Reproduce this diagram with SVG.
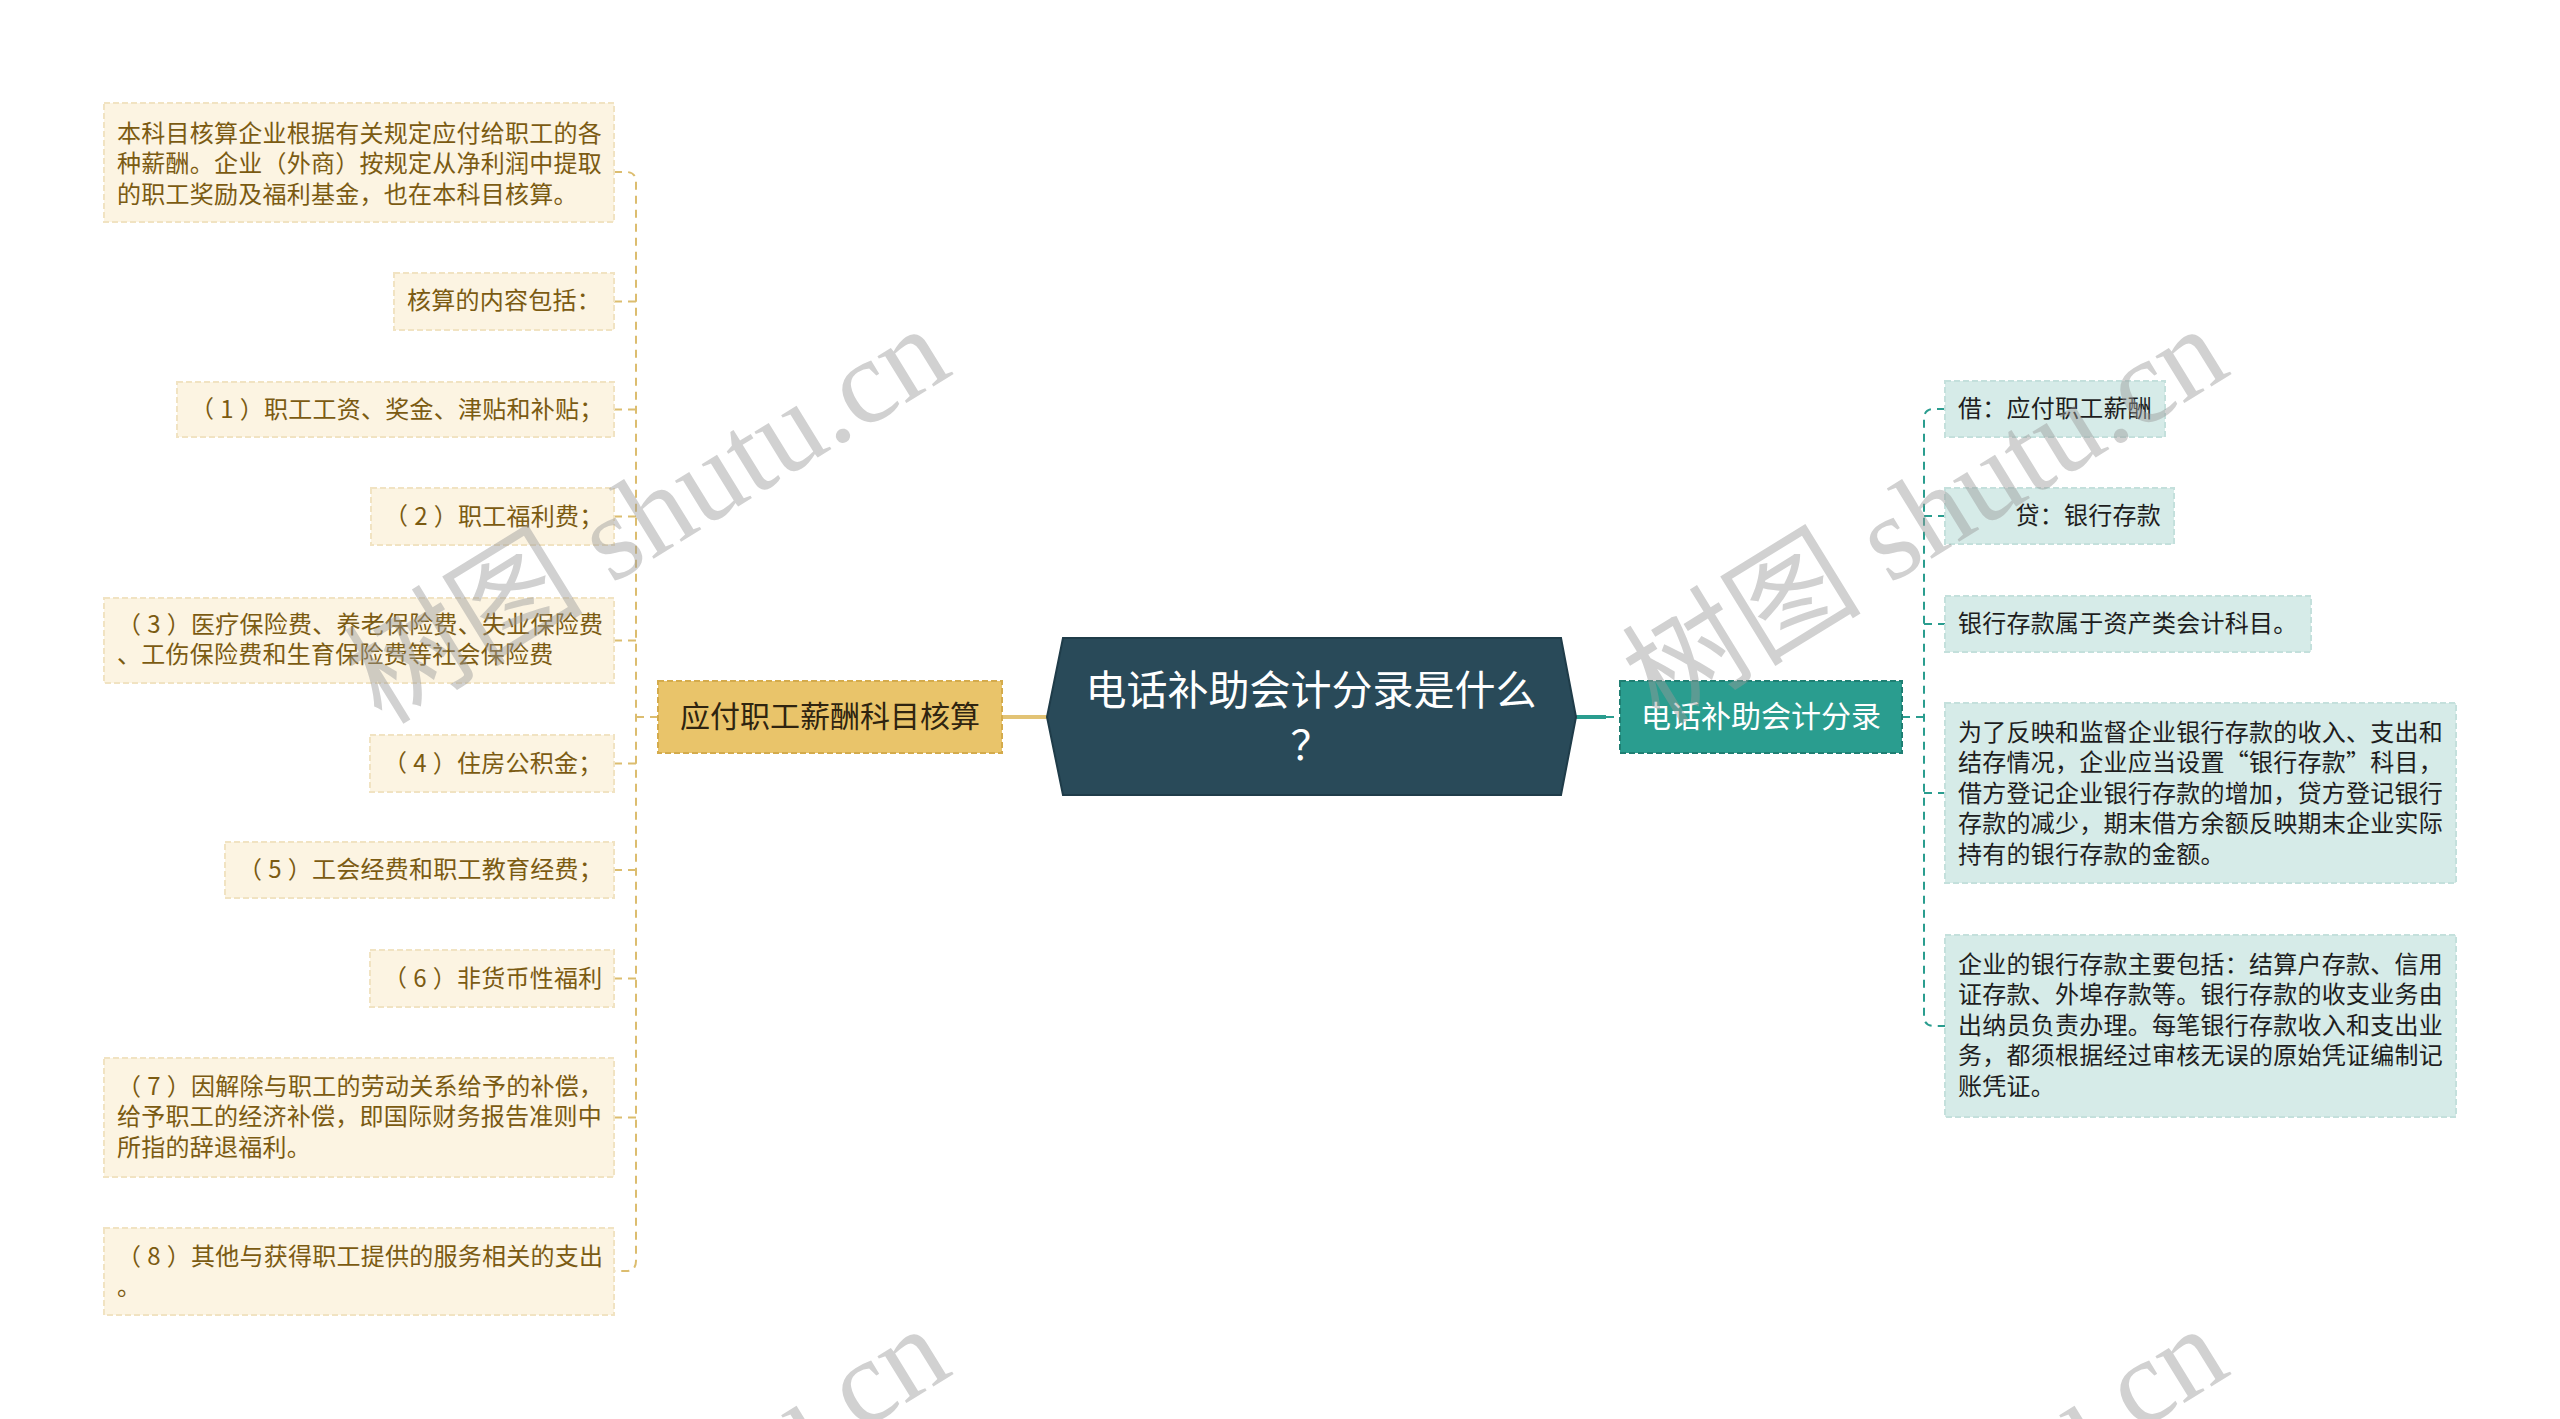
<svg xmlns="http://www.w3.org/2000/svg" width="2560" height="1419" viewBox="0 0 2560 1419">
<style>
text{font-family:"Noto Sans CJK SC","Noto Sans",sans-serif;dominant-baseline:central}
.lbox{fill:#fcf4e2;stroke:#f1e3c2;stroke-width:2;stroke-dasharray:6 3}
.ltxt{fill:#7b5b12;font-size:24px;letter-spacing:0.25px}
.rbox{fill:#d6ebe8;stroke:#c4e0dc;stroke-width:2;stroke-dasharray:6 3}
.rtxt{fill:#1e1e1e;font-size:24px;letter-spacing:0.25px}
.lcon{fill:none;stroke:#dcbd6f;stroke-width:2;stroke-dasharray:8 6}
.rcon{fill:none;stroke:#2a9d8f;stroke-width:2;stroke-dasharray:8 6}
.wm{font-family:"Liberation Serif","Noto Sans CJK SC",serif;font-size:120px;fill:#9a9a9a;opacity:0.45;dominant-baseline:alphabetic}
</style>
<rect width="2560" height="1419" fill="#ffffff"/>

<g id="connectors">
  <path class="lcon" d="M614,172 H626 Q636,172 636,182 V1261 Q636,1271 626,1271 H614"/>
  <path class="lcon" d="M614,301.5 H636 M614,409.5 H636 M614,516.5 H636 M614,640.5 H636 M614,763.5 H636 M614,870 H636 M614,978.5 H636 M614,1117.5 H636 M636,717 H658"/>
  <path d="M1002,717 H1047" stroke="#e2c375" stroke-width="4" fill="none"/>
  <path d="M1576,717 H1606" stroke="#2a9d8f" stroke-width="4" fill="none"/>
  <path class="rcon" d="M1606,717 H1620"/>
  <path class="rcon" d="M1902,717 H1924"/>
  <path class="rcon" d="M1945,409 H1934 Q1924,409 1924,419 V1016 Q1924,1026 1934,1026 H1945"/>
  <path class="rcon" d="M1924,516 H1945 M1924,624 H1945 M1924,793 H1945"/>
</g>

<g id="center">
  <polygon points="1063,638 1561,638 1576,717 1561,795 1063,795 1047,717" fill="#294a59" stroke="#1f3c49" stroke-width="2"/>
  <text x="1311" y="687" font-size="41" fill="#ffffff" text-anchor="middle">电话补助会计分录是什么</text>
  <text x="1311" y="742" font-size="41" fill="#ffffff" text-anchor="middle">？</text>
</g>

<g id="main-left">
  <rect x="658" y="681" width="344" height="72" fill="#e9c46a" stroke="#d4ab4c" stroke-width="2" stroke-dasharray="6 3"/>
  <text x="830" y="714" font-size="30" fill="#2f2410" text-anchor="middle">应付职工薪酬科目核算</text>
</g>

<g id="main-right">
  <rect x="1620" y="681" width="282" height="72" fill="#2a9d8f" stroke="#1f7f73" stroke-width="2" stroke-dasharray="6 3"/>
  <text x="1761" y="714" font-size="30" fill="#ffffff" text-anchor="middle">电话补助会计分录</text>
</g>

<g id="l1">
  <rect class="lbox" x="104" y="103" width="510" height="119"/>
  <text class="ltxt" x="117" y="131">本科目核算企业根据有关规定应付给职工的各</text>
  <text class="ltxt" x="117" y="161.5">种薪酬。企业（外商）按规定从净利润中提取</text>
  <text class="ltxt" x="117" y="192">的职工奖励及福利基金，也在本科目核算。</text>
</g>
<g id="l2">
  <rect class="lbox" x="394" y="273" width="220" height="57"/>
  <text class="ltxt" x="407" y="298.5">核算的内容包括：</text>
</g>
<g id="l3">
  <rect class="lbox" x="177" y="382" width="437" height="55"/>
  <text class="ltxt" x="190" y="406.5">（<tspan dx="6">1</tspan><tspan dx="6">）职工工资、奖金、津贴和补贴；</tspan></text>
</g>
<g id="l4">
  <rect class="lbox" x="371" y="488" width="243" height="57"/>
  <text class="ltxt" x="384" y="513.5">（<tspan dx="6">2</tspan><tspan dx="6">）职工福利费；</tspan></text>
</g>
<g id="l5">
  <rect class="lbox" x="104" y="598" width="510" height="85"/>
  <text class="ltxt" x="117" y="622">（<tspan dx="6">3</tspan><tspan dx="6">）医疗保险费、养老保险费、失业保险费</tspan></text>
  <text class="ltxt" x="117" y="652.5">、工伤保险费和生育保险费等社会保险费</text>
</g>
<g id="l6">
  <rect class="lbox" x="370" y="735" width="244" height="57"/>
  <text class="ltxt" x="383" y="760.5">（<tspan dx="6">4</tspan><tspan dx="6">）住房公积金；</tspan></text>
</g>
<g id="l7">
  <rect class="lbox" x="225" y="842" width="389" height="56"/>
  <text class="ltxt" x="238" y="867">（<tspan dx="6">5</tspan><tspan dx="6">）工会经费和职工教育经费；</tspan></text>
</g>
<g id="l8">
  <rect class="lbox" x="370" y="950" width="244" height="57"/>
  <text class="ltxt" x="383" y="975.5">（<tspan dx="6">6</tspan><tspan dx="6">）非货币性福利</tspan></text>
</g>
<g id="l9">
  <rect class="lbox" x="104" y="1058" width="510" height="119"/>
  <text class="ltxt" x="117" y="1084">（<tspan dx="6">7</tspan><tspan dx="6">）因解除与职工的劳动关系给予的补偿，</tspan></text>
  <text class="ltxt" x="117" y="1114.5">给予职工的经济补偿，即国际财务报告准则中</text>
  <text class="ltxt" x="117" y="1145">所指的辞退福利。</text>
</g>
<g id="l10">
  <rect class="lbox" x="104" y="1228" width="510" height="87"/>
  <text class="ltxt" x="117" y="1254">（<tspan dx="6">8</tspan><tspan dx="6">）其他与获得职工提供的服务相关的支出</tspan></text>
  <text class="ltxt" x="117" y="1284.5">。</text>
</g>

<g id="r1">
  <rect class="rbox" x="1945" y="381" width="220" height="56"/>
  <text class="rtxt" x="1958" y="406">借：应付职工薪酬</text>
</g>
<g id="r2">
  <rect class="rbox" x="1945" y="488" width="229" height="56"/>
  <text class="rtxt" x="2161" y="513" text-anchor="end">贷：银行存款</text>
</g>
<g id="r3">
  <rect class="rbox" x="1945" y="596" width="366" height="56"/>
  <text class="rtxt" x="1958" y="621">银行存款属于资产类会计科目。</text>
</g>
<g id="r4">
  <rect class="rbox" x="1945" y="703" width="511" height="180"/>
  <text class="rtxt" x="1958" y="730">为了反映和监督企业银行存款的收入、支出和</text>
  <text class="rtxt" x="1958" y="760.5">结存情况，企业应当设置“银行存款”科目，</text>
  <text class="rtxt" x="1958" y="791">借方登记企业银行存款的增加，贷方登记银行</text>
  <text class="rtxt" x="1958" y="821.5">存款的减少，期末借方余额反映期末企业实际</text>
  <text class="rtxt" x="1958" y="852">持有的银行存款的金额。</text>
</g>
<g id="r5">
  <rect class="rbox" x="1945" y="935" width="511" height="182"/>
  <text class="rtxt" x="1958" y="962">企业的银行存款主要包括：结算户存款、信用</text>
  <text class="rtxt" x="1958" y="992.5">证存款、外埠存款等。银行存款的收支业务由</text>
  <text class="rtxt" x="1958" y="1023">出纳员负责办理。每笔银行存款收入和支出业</text>
  <text class="rtxt" x="1958" y="1053.5">务，都须根据经过审核无误的原始凭证编制记</text>
  <text class="rtxt" x="1958" y="1084">账凭证。</text>
</g>

<g id="watermarks">
  <text class="wm" x="649" y="555" text-anchor="middle" transform="rotate(-31.6 649 518)">树图 shutu.cn</text>
  <text class="wm" x="1927" y="555" text-anchor="middle" transform="rotate(-31.6 1927 518)">树图 shutu.cn</text>
  <text class="wm" x="649" y="1555" text-anchor="middle" transform="rotate(-31.6 649 1518)">树图 shutu.cn</text>
  <text class="wm" x="1927" y="1555" text-anchor="middle" transform="rotate(-31.6 1927 1518)">树图 shutu.cn</text>
</g>
</svg>
